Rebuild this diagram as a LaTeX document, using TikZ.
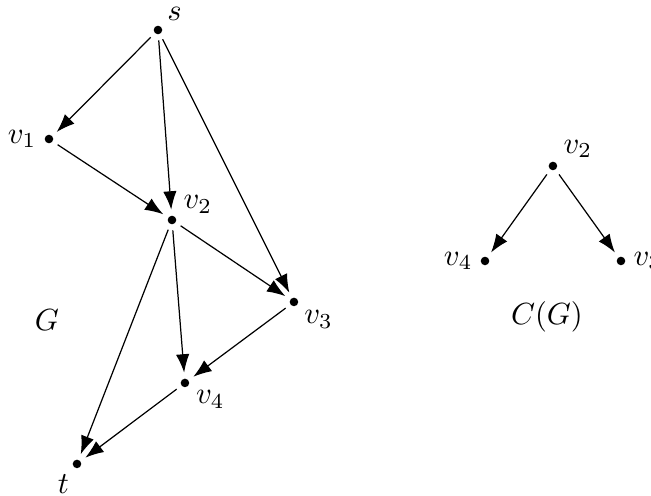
\documentclass[tikz,border=0pt]{standalone}
\usepackage{amsmath}
\usepackage{tikz}
\usetikzlibrary{arrows.meta,positioning}

\begin{document}
\begin{tikzpicture}[vtx/.style={circle, fill, inner sep=0pt, minimum size=2.8pt, outer sep=2pt},
    lbl/.style={inner sep=0.5pt},
    edge/.style={-{Latex[length=6pt,width=4.4pt]}}]
        \useasboundingbox (0,0) rectangle (7.483,5.701);
        % the graph G
        \node[vtx, label={[lbl]45:$s$}] (s) at (1.816,5.356) {};
        \node[vtx, label={[lbl]180:$v_1$}] (v1) at (0.563,4.103) {};
        \node[vtx, label={[lbl]25:$v_2$}] (v2) at (1.977,3.172) {};
        \node[vtx, label={[lbl]-38:$v_3$}] (v3) at (3.379,2.230) {};
        \node[vtx, label={[lbl]-31:$v_4$}] (v4) at (2.126,1.299) {};
        \node[vtx, label={[lbl]-124:$t$}] (t) at (0.885,0.368) {};
        \node (G) at (0.540,2.023) {$G$};
        \draw[edge] (s) -- (v1);
        \draw[edge] (s) -- (v2);
        \draw[edge] (s) -- (v3);
        \draw[edge] (v1) -- (v2);
        \draw[edge] (v2) -- (v3);
        \draw[edge] (v2) -- (v4);
        \draw[edge] (v2) -- (t);
        \draw[edge] (v3) -- (v4);
        \draw[edge] (v4) -- (t);
        % the graph C(G)
        \node[vtx, label={[lbl]35:$v_2$}] (c2) at (6.356,3.793) {};
        \node[vtx, label={[lbl]180:$v_4$}] (c4) at (5.575,2.701) {};
        \node[vtx, label={[lbl]0:$v_3$}] (c3) at (7.138,2.701) {};
        \node (CG) at (6.287,2.057) {$C(G)$};
        \draw[edge] (c2) -- (c4);
        \draw[edge] (c2) -- (c3);
    \end{tikzpicture}
\end{document}
